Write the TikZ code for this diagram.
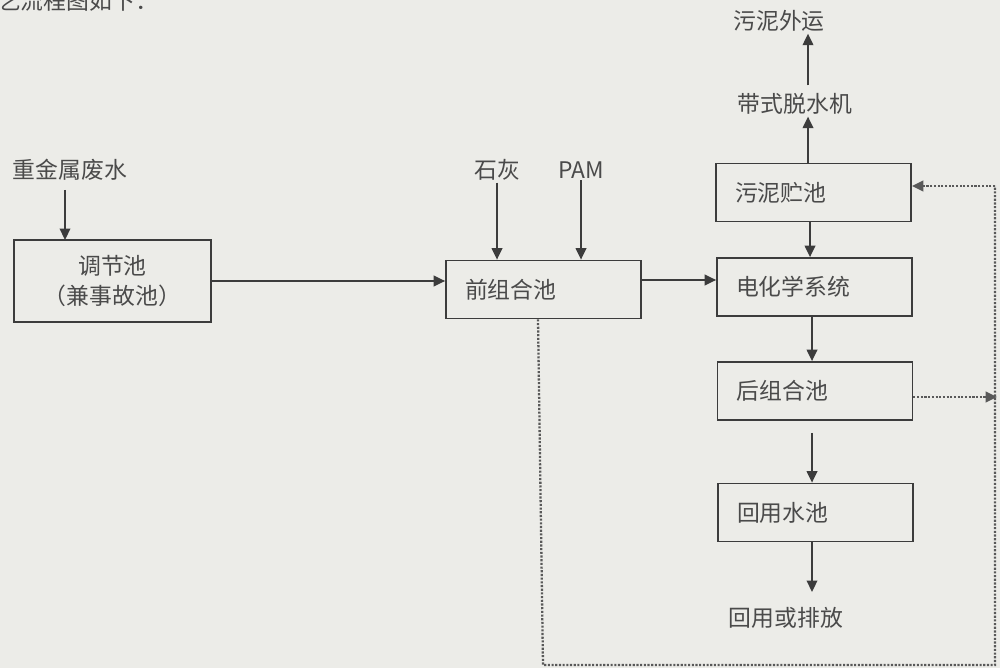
\documentclass[tikz,border=0pt]{standalone}
\usepackage{fontspec}
\setmainfont{Noto Sans CJK SC}
\usetikzlibrary{arrows.meta}
\definecolor{bgc}{HTML}{ECECE8}
\definecolor{linec}{HTML}{3C3C3C}
\definecolor{txtc}{HTML}{4A4A4A}
\begin{document}
\begin{tikzpicture}[x=0.02cm,y=-0.02cm,
  font=\fontsize{13pt}{17pt}\selectfont,
  every node/.style={text=txtc},
  arr/.style={draw=linec, line width=1pt, -{Triangle[length=6.5pt,width=6pt]}},
  dotl/.style={draw=linec!85, line width=1.3pt, dash pattern=on 1.2pt off 0.9pt},
  lbox/.style={draw=linec, line width=1pt, minimum height=1.16cm,
     text width=3.14cm, inner xsep=0.38cm, inner ysep=0pt, align=left},
  cbox/.style={draw=linec, line width=1pt, minimum width=3.94cm, minimum height=1.64cm,
     inner sep=0pt, align=center},
  lbl/.style={inner sep=1pt}
]
\useasboundingbox (0,0) rectangle (1000,668);
\fill[bgc] (0,0) rectangle (1000,668);
\clip (0,0) rectangle (1000,668);

% top cut text (cut off by the page edge, as in the reference)
\node[lbl, anchor=west] (top) at (-4,1) {艺流程图如下：};

% boxes
\node[cbox] (tj) at (112.5,281) {调节池\\（兼事故池）};
\node[lbox] (qz) at (543.5,289.5) {前组合池};
\node[lbox] (wn) at (813.5,192.5) {污泥贮池};
\node[lbox] (dh) at (814.5,287) {电化学系统};
\node[lbox] (hz) at (815,391) {后组合池};
\node[lbox] (hy) at (815.5,512.5) {回用水池};

% free labels
\node[lbl] (fs) at (70,170) {重金属废水};
\node[lbl] (sh) at (497,170) {石灰};
\node[lbl] (pam) at (581,170) {PAM};
\node[lbl] (tsj) at (795,104) {带式脱水机};
\node[lbl] (wnwy) at (779,21) {污泥外运};
\node[lbl] (hyp) at (786,618) {回用或排放};

% solid arrows
\draw[arr] (65,190) -- (65,240);
\draw[arr] (tj.east |- 0,281) -- (qz.west |- 0,281);
\draw[arr] (sh.south) -- (sh.south |- qz.north);
\draw[arr] (pam.south) -- (pam.south |- qz.north);
\draw[arr] (qz.east |- 0,280) -- (dh.west |- 0,280);
\draw[arr] (wn.south -| 810,0) -- (dh.north -| 810,0);
\draw[arr] (wn.north -| 808,0) -- (tsj.south -| 808,0);
\draw[arr] (tsj.north -| 808,0) ++(0,-6) -- (wnwy.south -| 808,0);
\draw[arr] (dh.south -| 812,0) -- (hz.north -| 812,0);
\coordinate (hzb) at (812,433);
\draw[arr] (hzb) -- (hy.north -| 812,0);
\draw[arr] (hy.south -| 812,0) -- (812,592);

% dotted return lines
\coordinate (d1) at (543,665);
\coordinate (d2) at (995,665);
\coordinate (d3) at (995,186);
\draw[dotl] (qz.south -| 538,0) -- (d1) -- (d2) -- (d3);
\draw[dotl, -{Triangle[length=6.5pt,width=6pt]}] (d3) -- (wn.east |- d3);
\coordinate (d4) at (997,397);
\draw[dotl, -{Triangle[length=6.5pt,width=6pt]}] (hz.east |- d4) -- (d4);
\end{tikzpicture}
\end{document}
